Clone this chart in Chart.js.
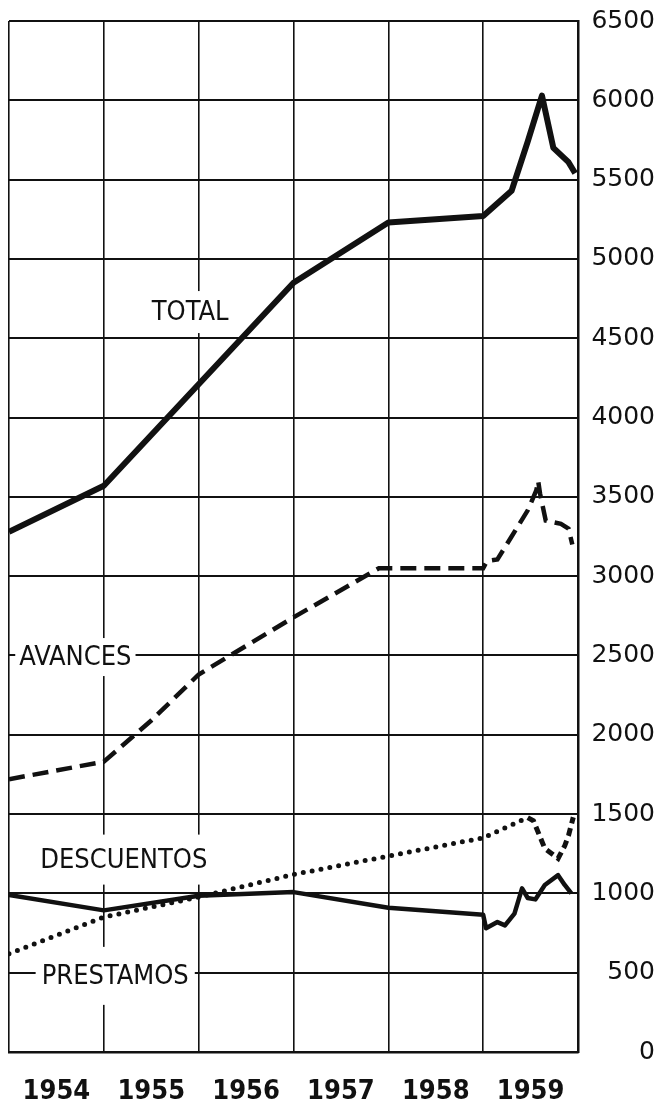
<!DOCTYPE html>
<html>
<head>
<meta charset="utf-8">
<script src="https://cdn.jsdelivr.net/npm/chart.js@4.4.1/dist/chart.umd.min.js"></script>
<style>
  html, body { margin: 0; padding: 0; background: #fff; }
  #wrap { width: 663px; height: 1107px; }
</style>
</head>
<body>
<div id="wrap"><canvas id="grafico"></canvas></div>
<script>
// valores (millones), eje x en años
const yearLabels = ['1954', '1955', '1956', '1957', '1958', '1959'];

const totalYears  = [1954, 1955, 1956, 1957, 1958, 1959, 1959.30, 1959.47, 1959.62, 1959.74, 1959.90, 1959.97];
const totalValues = [3280, 3570, 4210, 4850, 5230, 5270, 5430, 5740, 6030, 5700, 5610, 5540];

const avancesYears  = [1954, 1955, 1955.5, 1956, 1957, 1957.9, 1959, 1959.04, 1959.15, 1959.30, 1959.47, 1959.56, 1959.58, 1959.60, 1959.66, 1959.82, 1959.90, 1959.94];
const avancesValues = [1720, 1830, 2090, 2380, 2740, 3050, 3050, 3095, 3105, 3250, 3415, 3540, 3600, 3520, 3350, 3330, 3300, 3200];

const descuentosYears  = [1954, 1955, 1956, 1957, 1958, 1959, 1959.47, 1959.53, 1959.65, 1959.79, 1959.86, 1959.90, 1959.95];
const descuentosValues = [620, 850, 977, 1119, 1235, 1350, 1478, 1458, 1283, 1220, 1300, 1365, 1480];

const prestamosYears  = [1954, 1955, 1956, 1957, 1958, 1959, 1959.03, 1959.15, 1959.23, 1959.33, 1959.41, 1959.47, 1959.55, 1959.65, 1959.79, 1959.86, 1959.93];
const prestamosValues = [990, 893, 985, 1008, 910, 865, 780, 819, 798, 873, 1032, 971, 962, 1053, 1115, 1053, 1000];

const seriesNames = ['TOTAL', 'AVANCES', 'DESCUENTOS', 'PRESTAMOS'];

const ink = '#111';
const labelFont = '27px "DejaVu Sans Condensed", "DejaVu Sans", sans-serif';

function puntos(xs, ys) {
    return xs.map((x, i) => ({ x: x, y: ys[i] }));
}

// rotulos de las series, con fondo blanco que tapa la cuadricula
const rotulos = {
    id: 'rotulos',
    beforeDatasetsDraw(chart) {
        const { ctx, scales: { x, y } } = chart;
        const sitios = [
            { t: seriesNames[0], at: [1955.91, 4665], padX: 6, padY: 10 },
            { t: seriesNames[1], at: [1954.70, 2490], padX: 4, padY: 8 },
            { t: seriesNames[2], at: [1955.21, 1213], padX: 6, padY: 14 },
            { t: seriesNames[3], at: [1955.12, 480], padX: 6, padY: 18 }
        ];
        ctx.save();
        ctx.font = labelFont;
        ctx.textAlign = 'center';
        ctx.textBaseline = 'middle';
        sitios.forEach(s => {
            const px = x.getPixelForValue(s.at[0]);
            const py = y.getPixelForValue(s.at[1]);
            const w = ctx.measureText(s.t).width;
            ctx.fillStyle = '#fff';
            ctx.fillRect(px - w / 2 - s.padX, py - 11 - s.padY, w + 2 * s.padX, 22 + 2 * s.padY);
            ctx.fillStyle = ink;
            ctx.fillText(s.t, px, py + 1);
        });
        ctx.restore();
    }
};

const ctx = document.getElementById('grafico').getContext('2d');
new Chart(ctx, {
    type: 'line',
    data: {
        datasets: [
            {
                label: seriesNames[0],
                data: puntos(totalYears, totalValues),
                borderColor: ink,
                borderWidth: 6,
                borderJoinStyle: 'round'
            },
            {
                label: seriesNames[1],
                data: puntos(avancesYears, avancesValues),
                borderColor: ink,
                borderWidth: 4.5,
                borderDash: [16, 8]
            },
            {
                label: seriesNames[2],
                data: puntos(descuentosYears, descuentosValues),
                borderColor: ink,
                borderWidth: 5,
                borderDash: [0, 9],
                borderCapStyle: 'round',
                segment: {
                    borderDash: c => c.p0.parsed.x >= 1959.46 ? [8, 5] : undefined,
                    borderCapStyle: c => c.p0.parsed.x >= 1959.46 ? 'butt' : undefined
                }
            },
            {
                label: seriesNames[3],
                data: puntos(prestamosYears, prestamosValues),
                borderColor: ink,
                borderWidth: 4.5,
                borderJoinStyle: 'round'
            }
        ]
    },
    options: {
        responsive: true,
        maintainAspectRatio: false,
        animation: false,
        layout: { padding: { left: 9, top: 18, right: 8, bottom: 0 } },
        elements: { point: { radius: 0 }, line: { tension: 0, fill: false } },
        plugins: {
            legend: { display: false },
            tooltip: { enabled: false }
        },
        scales: {
            x: {
                type: 'linear',
                min: 1954,
                max: 1960,
                afterFit(scale) {
                    scale.height = 55;
                    scale.paddingLeft = 0;
                    scale.paddingRight = 0;
                },
                grid: {
                    color: c => (c.tick && c.tick.value % 1 === 0) ? ink : 'rgba(0,0,0,0)',
                    lineWidth: 1.6,
                    drawTicks: false
                },
                border: { color: ink, width: 2.5 },
                ticks: {
                    stepSize: 0.5,
                    padding: 24,
                    autoSkip: false,
                    maxRotation: 0,
                    color: ink,
                    font: { family: '"DejaVu Sans Condensed", "DejaVu Sans", sans-serif', size: 27, weight: 'bold' },
                    callback: v => (v % 1 === 0.5) ? yearLabels[Math.floor(v) - 1954] : ''
                }
            },
            y: {
                position: 'right',
                min: 0,
                max: 6500,
                afterFit(scale) { scale.width = 77; },
                grid: { color: ink, lineWidth: 2, drawTicks: false },
                border: { color: ink, width: 2.5 },
                ticks: {
                    stepSize: 500,
                    padding: 6,
                    crossAlign: 'far',
                    color: ink,
                    font: { family: '"DejaVu Sans", sans-serif', size: 25 },
                    callback: v => String(v)
                }
            }
        }
    },
    plugins: [rotulos]
});
</script>
</body>
</html>
